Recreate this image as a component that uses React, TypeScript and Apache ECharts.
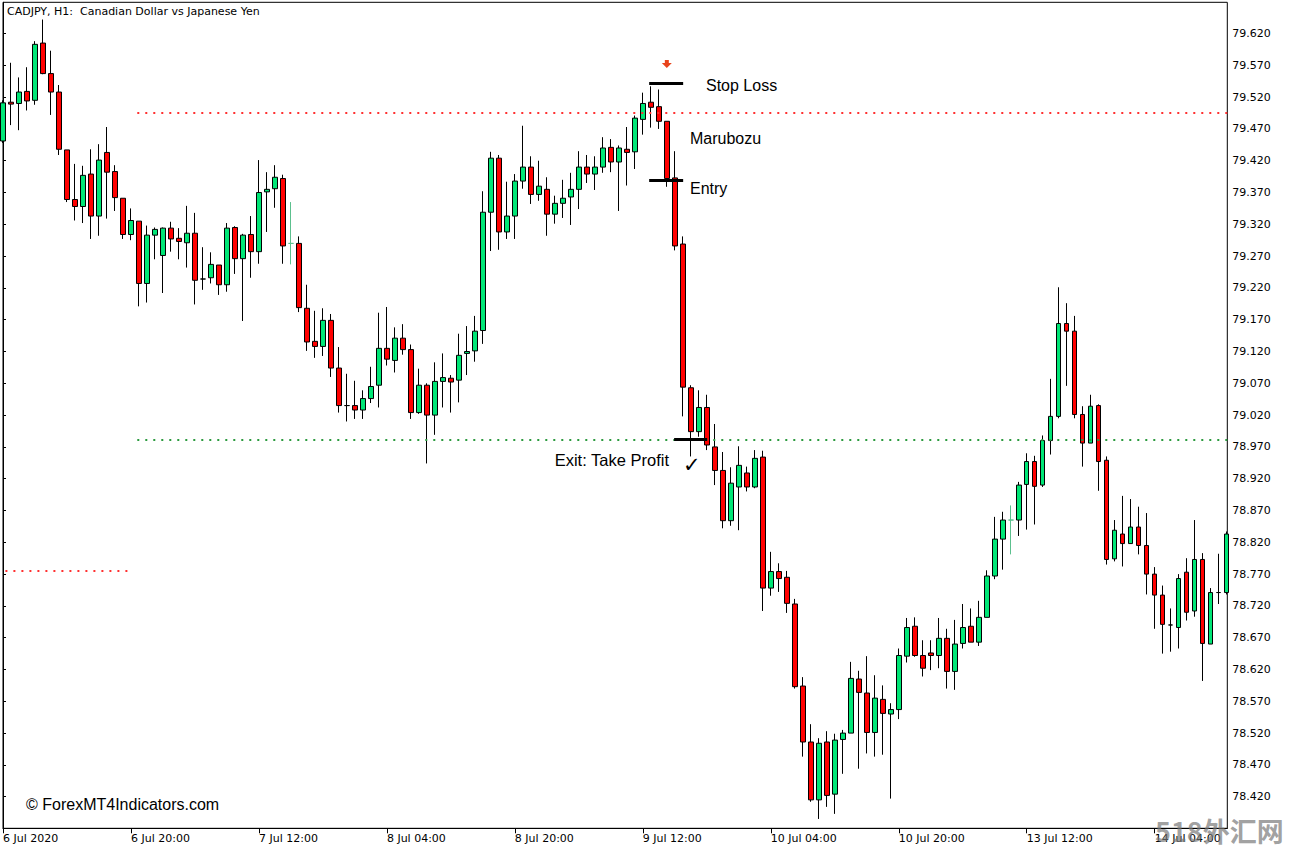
import React, { useEffect, useRef } from "react";
import * as echarts from "echarts";

// ---- Data (CADJPY H1) ----
const opens = [
  79.451, 79.512, 79.510, 79.529, 79.515, 79.605, 79.557, 79.528, 79.437, 79.359,
  79.348, 79.399, 79.333, 79.433, 79.403, 79.361, 79.304, 79.325, 79.227, 79.303,
  79.271, 79.314, 79.298, 79.291, 79.306, 79.234, 79.236, 79.256, 79.225, 79.315,
  79.266, 79.304, 79.277, 79.371, 79.376, 79.392, 79.290, 79.290, 79.188, 79.136,
  79.128, 79.169, 79.094, 79.035, 79.035, 79.028, 79.046, 79.067, 79.125, 79.106,
  79.141, 79.123, 79.024, 79.067, 79.020, 79.073, 79.078, 79.075, 79.117, 79.121,
  79.153, 79.339, 79.424, 79.308, 79.333, 79.388, 79.410, 79.367, 79.375, 79.336,
  79.353, 79.363, 79.375, 79.410, 79.399, 79.410, 79.441, 79.418, 79.438, 79.434,
  79.485, 79.512, 79.505, 79.482, 79.393, 79.289, 79.063, 78.994, 79.032, 78.970,
  78.933, 78.854, 78.907, 78.929, 78.907, 78.954, 78.748, 78.774, 78.765, 78.723,
  78.594, 78.506, 78.415, 78.506, 78.424, 78.510, 78.520, 78.605, 78.583, 78.521,
  78.573, 78.550, 78.557, 78.641, 78.688, 78.642, 78.646, 78.642, 78.669, 78.617,
  78.661, 78.688, 78.663, 78.702, 78.767, 78.825, 78.855, 78.855, 78.911, 78.947,
  78.910, 78.980, 79.018, 79.164, 79.152, 79.021, 78.976, 79.035, 78.949, 78.794,
  78.833, 78.818, 78.844, 78.815, 78.770, 78.737, 78.690, 78.686, 78.773, 78.712,
  78.793, 78.660, 78.741, 78.741,
];
const highs = [
  79.515, 79.574, 79.551, 79.567, 79.608, 79.642, 79.593, 79.539, 79.437, 79.415,
  79.412, 79.438, 79.446, 79.473, 79.413, 79.361, 79.345, 79.325, 79.318, 79.315,
  79.315, 79.324, 79.314, 79.349, 79.338, 79.284, 79.276, 79.256, 79.322, 79.317,
  79.305, 79.333, 79.421, 79.402, 79.413, 79.398, 79.355, 79.301, 79.225, 79.184,
  79.188, 79.179, 79.127, 79.085, 79.074, 79.059, 79.096, 79.181, 79.190, 79.158,
  79.163, 79.131, 79.093, 79.070, 79.103, 79.117, 79.083, 79.148, 79.160, 79.176,
  79.372, 79.434, 79.429, 79.387, 79.399, 79.475, 79.427, 79.420, 79.394, 79.365,
  79.390, 79.401, 79.435, 79.429, 79.427, 79.457, 79.454, 79.444, 79.473, 79.491,
  79.527, 79.537, 79.532, 79.482, 79.435, 79.301, 79.067, 79.059, 79.052, 79.006,
  78.962, 78.938, 78.971, 78.939, 78.965, 78.964, 78.805, 78.787, 78.775, 78.731,
  78.608, 78.534, 78.512, 78.523, 78.519, 78.525, 78.632, 78.618, 78.641, 78.611,
  78.595, 78.567, 78.653, 78.701, 78.702, 78.666, 78.666, 78.701, 78.684, 78.698,
  78.723, 78.716, 78.728, 78.776, 78.860, 78.868, 78.878, 78.915, 78.960, 78.956,
  78.988, 79.077, 79.221, 79.196, 79.176, 79.034, 79.052, 79.037, 78.955, 78.855,
  78.893, 78.888, 78.876, 78.866, 78.781, 78.752, 78.716, 78.770, 78.795, 78.855,
  78.803, 78.748, 78.802, 78.837,
];
const lows = [
  79.448, 79.476, 79.468, 79.499, 79.508, 79.556, 79.492, 79.429, 79.355, 79.326,
  79.322, 79.297, 79.302, 79.329, 79.341, 79.297, 79.295, 79.191, 79.197, 79.265,
  79.212, 79.277, 79.265, 79.252, 79.194, 79.217, 79.227, 79.209, 79.214, 79.242,
  79.168, 79.236, 79.258, 79.308, 79.346, 79.258, 79.257, 79.182, 79.121, 79.110,
  79.113, 79.080, 79.024, 79.010, 79.014, 79.014, 79.039, 79.032, 79.098, 79.087,
  79.115, 79.014, 79.022, 78.944, 78.989, 79.032, 79.024, 79.040, 79.083, 79.104,
  79.132, 79.278, 79.280, 79.297, 79.297, 79.376, 79.352, 79.357, 79.302, 79.321,
  79.330, 79.319, 79.344, 79.385, 79.374, 79.401, 79.402, 79.341, 79.381, 79.407,
  79.461, 79.472, 79.470, 79.379, 79.279, 79.018, 78.955, 78.986, 78.965, 78.910,
  78.842, 78.846, 78.839, 78.900, 78.905, 78.712, 78.736, 78.742, 78.709, 78.590,
  78.483, 78.412, 78.385, 78.404, 78.393, 78.456, 78.520, 78.464, 78.488, 78.483,
  78.486, 78.417, 78.542, 78.631, 78.640, 78.609, 78.619, 78.622, 78.590, 78.588,
  78.653, 78.663, 78.657, 78.702, 78.762, 78.777, 78.801, 78.830, 78.840, 78.848,
  78.907, 78.958, 79.015, 79.066, 79.015, 78.939, 78.976, 78.901, 78.785, 78.790,
  78.782, 78.818, 78.801, 78.738, 78.684, 78.645, 78.648, 78.653, 78.697, 78.703,
  78.602, 78.660, 78.723, 78.738,
];
const closes = [
  79.511, 79.509, 79.528, 79.514, 79.603, 79.557, 79.528, 79.438, 79.359, 79.348,
  79.397, 79.333, 79.421, 79.402, 79.362, 79.304, 79.326, 79.227, 79.303, 79.312,
  79.314, 79.297, 79.293, 79.306, 79.232, 79.234, 79.257, 79.225, 79.314, 79.266,
  79.303, 79.277, 79.370, 79.375, 79.394, 79.286, 79.290, 79.189, 79.135, 79.128,
  79.169, 79.094, 79.035, 79.035, 79.028, 79.046, 79.065, 79.125, 79.108, 79.141,
  79.123, 79.024, 79.067, 79.020, 79.073, 79.079, 79.072, 79.114, 79.120, 79.152,
  79.339, 79.424, 79.308, 79.333, 79.388, 79.410, 79.367, 79.380, 79.336, 79.353,
  79.361, 79.375, 79.410, 79.399, 79.410, 79.440, 79.418, 79.440, 79.433, 79.487,
  79.510, 79.504, 79.482, 79.392, 79.286, 79.064, 78.994, 79.032, 78.973, 78.933,
  78.854, 78.913, 78.941, 78.907, 78.952, 78.748, 78.774, 78.763, 78.724, 78.593,
  78.506, 78.415, 78.504, 78.422, 78.509, 78.520, 78.606, 78.584, 78.521, 78.575,
  78.551, 78.557, 78.642, 78.686, 78.642, 78.622, 78.642, 78.669, 78.617, 78.660,
  78.686, 78.663, 78.702, 78.767, 78.825, 78.855, 78.855, 78.910, 78.947, 78.908,
  78.980, 79.018, 79.164, 79.152, 79.021, 78.976, 79.034, 78.947, 78.793, 78.839,
  78.818, 78.844, 78.815, 78.770, 78.737, 78.691, 78.690, 78.763, 78.710, 78.793,
  78.661, 78.741, 78.741, 78.833,
];
// bars drawn as pale green crosses in the picture
const paleDojiBars = [36, 126];

// time axis labels (bar index -> label)
const dateLabelBars = [0, 16, 32, 48, 64, 80, 96, 112, 128, 144];
const dateLabels = [
  "6 Jul 2020", "6 Jul 20:00", "7 Jul 12:00", "8 Jul 04:00", "8 Jul 20:00",
  "9 Jul 12:00", "10 Jul 04:00", "10 Jul 20:00", "13 Jul 12:00", "14 Jul 04:00",
];
// price axis labels
const priceTicks = [
  78.42, 78.47, 78.52, 78.57, 78.62, 78.67, 78.72, 78.77, 78.82, 78.87, 78.92, 78.97,
  79.02, 79.07, 79.12, 79.17, 79.22, 79.27, 79.32, 79.37, 79.42, 79.47, 79.52, 79.57, 79.62,
];

// levels and trade annotation
const upperLevel = 79.496;
const lowerLevel = 78.981;
const previousLevel = 78.775;
const stopLossPrice = 79.542;
const entryPrice = 79.389;
const takeProfitPrice = 78.982;
const signalBar = 83;
const signalArrowPrice = 79.572;

const BULL = "#00e676";
const BEAR = "#ff0000";
const PALE = "#5cc08e";
const AXIS_FONT = "DejaVu Sans";
const NOTE_FONT = "Liberation Sans";

export default function App() {
  const ref = useRef<HTMLDivElement>(null);

  useEffect(() => {
    if (!ref.current) return;
    const chart = echarts.init(ref.current, undefined, { renderer: "svg" });

    const data = opens.map((o, i) => {
      const item: any = { value: [i, o, closes[i], lows[i], highs[i]] };
      if (paleDojiBars.includes(i)) {
        item.itemStyle = {
          color: PALE,
          color0: PALE,
          borderColor: PALE,
          borderColor0: PALE,
          borderColorDoji: PALE,
        };
      }
      return item;
    });

    const xMax = 153.075;
    const dotted = (color: string) => ({
      color,
      width: 2,
      type: [2, 6] as any,
    });
    const solid = { color: "#000", width: 3, type: "solid" as const };

    const option: any = {
      animation: false,
      backgroundColor: "#fff",
      textStyle: { fontFamily: AXIS_FONT },
      grid: {
        left: 2.7,
        right: 62.7,
        top: 2.3,
        bottom: 23.7,
        show: true,
        borderColor: "#000",
        borderWidth: 1,
        backgroundColor: "#fff",
      },
      xAxis: {
        type: "value",
        min: 0,
        max: xMax,
        splitLine: { show: false },
        axisLine: { show: true, lineStyle: { color: "#000", width: 1 } },
        axisTick: {
          show: true,
          length: 5,
          lineStyle: { color: "#000" },
          customValues: dateLabelBars,
        },
        axisLabel: {
          customValues: dateLabelBars,
          formatter: (v: number) => {
            const k = dateLabelBars.indexOf(Math.round(v));
            return k >= 0 ? dateLabels[k] : "";
          },
          align: "left",
          margin: 5,
          color: "#000",
          fontSize: 11,
          fontFamily: AXIS_FONT,
        },
      },
      yAxis: {
        type: "value",
        position: "right",
        min: 78.3703,
        max: 79.6691,
        scale: true,
        splitLine: { show: false },
        axisLine: { show: true, lineStyle: { color: "#000", width: 1 } },
        axisTick: {
          show: true,
          length: 3,
          lineStyle: { color: "#000" },
          customValues: priceTicks,
        },
        axisLabel: {
          customValues: priceTicks,
          formatter: (v: number) => v.toFixed(3),
          margin: 5,
          color: "#000",
          fontSize: 11,
          fontFamily: AXIS_FONT,
        },
      },
      series: [
        {
          type: "candlestick",
          data,
          encode: { x: 0, y: [1, 2, 3, 4] },
          barWidth: 5,
          clip: true,
          itemStyle: {
            color: BULL,
            color0: BEAR,
            borderColor: "#000",
            borderColor0: "#000",
            borderColorDoji: "#000",
            borderWidth: 1,
          },
          emphasis: { disabled: true },
          markLine: {
            silent: true,
            symbol: ["none", "none"],
            label: { show: false },
            animation: false,
            data: [
              [
                { coord: [16.79, upperLevel], lineStyle: dotted("#ff3030") },
                { coord: [xMax, upperLevel] },
              ],
              [
                { coord: [0.3, previousLevel], lineStyle: dotted("#ff3030") },
                { coord: [16.2, previousLevel] },
              ],
              [
                { coord: [16.79, lowerLevel], lineStyle: dotted("#2a9a3e") },
                { coord: [xMax, lowerLevel] },
              ],
              [
                { coord: [80.79, stopLossPrice], lineStyle: solid },
                { coord: [85.04, stopLossPrice] },
              ],
              [
                { coord: [80.79, entryPrice], lineStyle: solid },
                { coord: [85.04, entryPrice] },
              ],
              [
                { coord: [83.91, takeProfitPrice], lineStyle: solid },
                { coord: [88.04, takeProfitPrice] },
              ],
            ],
          },
          markPoint: {
            silent: true,
            animation: false,
            label: { show: false },
            data: [
              {
                coord: [signalBar, signalArrowPrice],
                symbol: "path://M3,0 L7,0 L7,3 L10,3 L5,8 L0,3 L3,3 Z",
                symbolSize: [10, 8],
                itemStyle: { color: "#e8441c" },
              },
            ],
          },
        },
      ],
      graphic: [
        {
          type: "text",
          left: 7,
          top: 6,
          style: {
            text: "CADJPY, H1:  Canadian Dollar vs Japanese Yen",
            fill: "#000",
            font: `11px "${AXIS_FONT}"`,
          },
        },
        {
          type: "text",
          x: 706,
          y: 85,
          style: {
            text: "Stop Loss",
            fill: "#000",
            font: `16px "${NOTE_FONT}"`,
            verticalAlign: "middle",
          },
        },
        {
          type: "text",
          x: 690,
          y: 138,
          style: {
            text: "Marubozu",
            fill: "#000",
            font: `16px "${NOTE_FONT}"`,
            verticalAlign: "middle",
          },
        },
        {
          type: "text",
          x: 690,
          y: 188,
          style: {
            text: "Entry",
            fill: "#000",
            font: `16px "${NOTE_FONT}"`,
            verticalAlign: "middle",
          },
        },
        {
          type: "text",
          x: 669,
          y: 460,
          style: {
            text: "Exit: Take Profit",
            fill: "#000",
            font: `16.5px "${NOTE_FONT}"`,
            align: "right",
            verticalAlign: "middle",
          },
        },
        {
          type: "text",
          x: 683,
          y: 465,
          style: {
            text: "✓",
            fill: "#000",
            font: `21px "DejaVu Sans"`,
            verticalAlign: "middle",
          },
        },
        {
          type: "text",
          x: 26,
          y: 804,
          style: {
            text: "© ForexMT4Indicators.com",
            fill: "#000",
            font: `16px "${NOTE_FONT}"`,
            verticalAlign: "middle",
          },
        },
        {
          type: "text",
          x: 1155,
          y: 830,
          z: 100,
          style: {
            text: "518外汇网",
            fill: "rgba(120,120,120,0.7)",
            font: `bold 27px "Noto Sans CJK SC"`,
            verticalAlign: "middle",
          },
        },
      ],
    };

    chart.setOption(option);
    return () => chart.dispose();
  }, []);

  return (
    <div
      ref={ref}
      style={{ position: "fixed", left: 0, top: 0, width: 1290, height: 852, background: "#fff" }}
    />
  );
}
